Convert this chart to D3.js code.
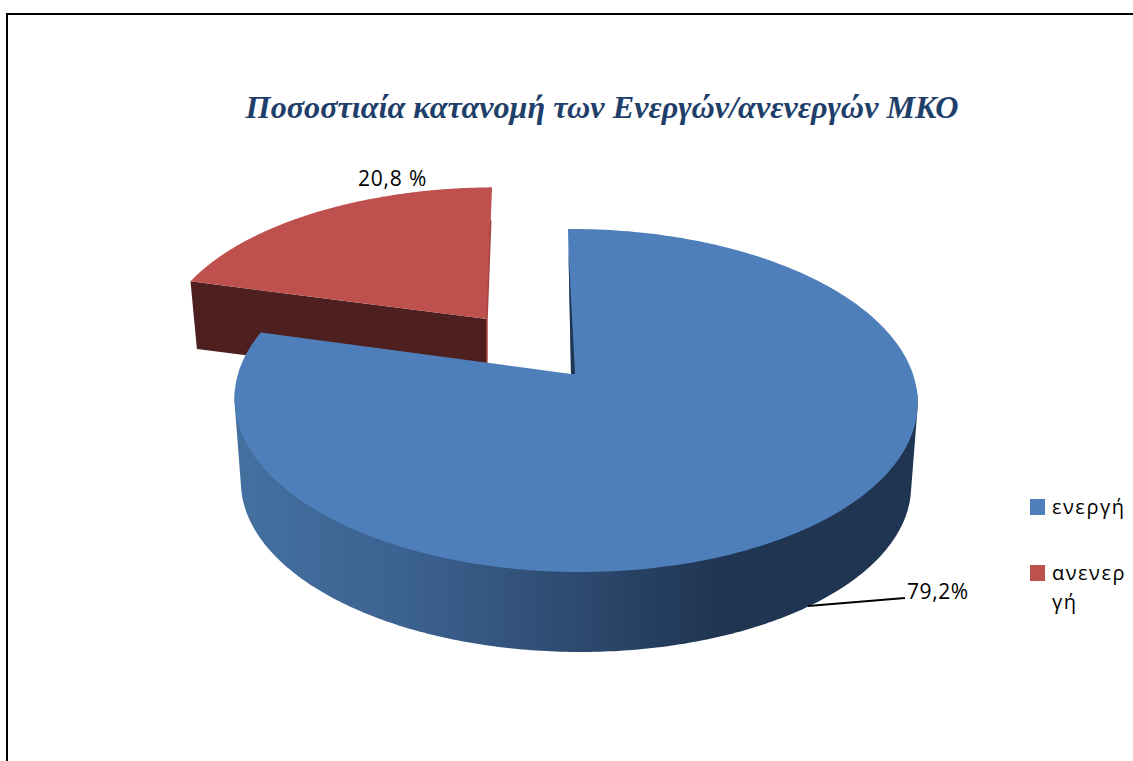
<!DOCTYPE html>
<html>
<head>
<meta charset="utf-8">
<script src="https://cdn.jsdelivr.net/npm/d3@7"></script>
<style>
    html, body { margin: 0; padding: 0; background: #fff; }
    svg { display: block; }
    .label { font-family: "Open Sans", sans-serif; fill: #000; }
</style>
</head>
<body>
<svg id="chart" width="1133" height="761"></svg>
<script>
const categories = ["ενεργή", "ανενεργή"];
const shares = [79.2, 20.8];
const valueLabels = ["79,2%", "20,8 %"];
const legendLines = [["ενεργή"], ["ανενερ", "γή"]];
const colors = ["#4f7fba", "#be504d"];
const titleText = "Ποσοστιαία κατανομή των Ενεργών/ανενεργών ΜΚΟ";

const svg = d3.select("#chart");

// border runs off the right and bottom of the picture
svg.append("rect")
    .attr("x", 7).attr("y", 14)
    .attr("width", 1200).attr("height", 900)
    .attr("fill", "none").attr("stroke", "#000").attr("stroke-width", 2);

svg.append("text")
    .attr("x", 602).attr("y", 118)
    .attr("text-anchor", "middle")
    .style("font-family", "'Liberation Serif', serif")
    .style("font-weight", "bold").style("font-style", "italic")
    .style("font-size", "32.2px")
    .style("fill", "#1f3f6b")
    .text(titleText);

// pie laid out from the top going clockwise
const slices = d3.pie().sort(null)(shares);

// tilted disc: unit circle to screen, with a bit of perspective
function disc(cx, cy, rx, ry, shear) {
    return (angle, r = 1) => {
        const u = r * Math.sin(angle), v = -r * Math.cos(angle);
        const w = 1 - 0.0132 * u - 0.1545 * v;
        return [cx + (rx * u + shear * v) / w, cy + ry * v / w];
    };
}

const blueTop = disc(571, 374, 337.4, 167.4, 3.46);
const blueBase = disc(571, 458, 331, 164, 3.46);
const redTop = disc(487, 319, 325, 152, -5.8);
const redBase = disc(487, 386, 318, 149, -5.8);

const line = d3.line().curve(d3.curveLinear);
const rim = (proj, a0, a1) => d3.range(0, 241).map(i => proj(a0 + (a1 - a0) * i / 240));

function wedge(proj, s) {
    return line([proj(0, 0), ...rim(proj, s.startAngle, s.endAngle)]) + "Z";
}

const defs = svg.append("defs");
const sideGrad = defs.append("linearGradient")
    .attr("id", "blue-side").attr("gradientUnits", "userSpaceOnUse")
    .attr("x1", 236).attr("x2", 914).attr("y1", 0).attr("y2", 0);
[[0, "#44709f"], [0.25, "#3c6291"], [0.5, "#2d4a6f"], [0.72, "#1f3551"], [1, "#1f3551"]]
    .forEach(([o, c]) => sideGrad.append("stop").attr("offset", o).attr("stop-color", c));

const red = slices[1], blue = slices[0];

// red slice first, the blue disc sits in front of it
svg.append("path")
    .attr("d", line([redTop(red.startAngle), redTop(0, 0), redBase(0, 0), redBase(red.startAngle)]) + "Z")
    .attr("fill", "#4d1f1f");
svg.append("path")
    .attr("d", wedge(redTop, red))
    .attr("fill", colors[1]);
svg.append("path")
    .attr("d", line([redTop(0, 0), redBase(0, 0)]))
    .attr("fill", "none").attr("stroke", "#b04a47").attr("stroke-width", 1.5);
svg.append("path")
    .attr("d", line([redTop(0, 0), redTop(0, 0.72)]))
    .attr("fill", "none").attr("stroke", "#a54442").attr("stroke-width", 1.5);

// wall of the blue disc = hull of the front half of both rims, top face covers the rest
const frontFrom = 95 * Math.PI / 180, frontTo = 265 * Math.PI / 180;
svg.append("path")
    .attr("d", line(d3.polygonHull([...rim(blueTop, frontFrom, frontTo), ...rim(blueBase, frontFrom, frontTo)])) + "Z")
    .attr("fill", "url(#blue-side)");
svg.append("path")
    .attr("d", wedge(blueTop, blue))
    .attr("fill", colors[0]);

// sliver of the inner wall along the gap
svg.append("path")
    .attr("d", line([blueTop(0, 0), blueTop(Math.PI / 2, 0.012), blueTop(0, 0.83)]) + "Z")
    .attr("fill", "#1f3551");

// value labels
svg.append("path")
    .attr("d", line([[808, 606], [905, 598]]))
    .attr("fill", "none").attr("stroke", "#000").attr("stroke-width", 2);

svg.append("text").attr("class", "label")
    .attr("x", 907).attr("y", 599)
    .style("font-size", "21px").style("letter-spacing", "0.6px")
    .text(valueLabels[0]);
svg.append("text").attr("class", "label")
    .attr("x", 358).attr("y", 186)
    .style("font-size", "21px").style("letter-spacing", "0.8px")
    .text(valueLabels[1]);

// legend
const legendY = d3.scalePoint().domain(categories).range([499, 565]);
const legend = svg.selectAll(".legend").data(categories).enter().append("g")
    .attr("transform", d => `translate(1030,${legendY(d)})`);
legend.append("rect")
    .attr("width", 15).attr("height", 16)
    .attr("fill", (d, i) => colors[i]);
legend.each(function (d, i) {
    legendLines[i].forEach((t, j) => {
        d3.select(this).append("text").attr("class", "label")
            .attr("x", 22).attr("y", 15 + j * 29)
            .style("font-size", "20px").style("letter-spacing", "1.5px")
            .text(t);
    });
});
</script>
</body>
</html>
